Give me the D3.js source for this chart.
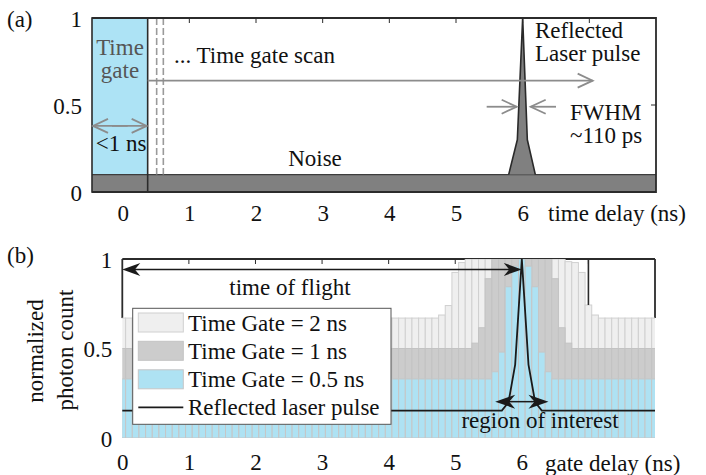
<!DOCTYPE html>
<html><head><meta charset="utf-8">
<script src="https://cdn.jsdelivr.net/npm/d3@7"></script>
<style>
body{margin:0;background:#fff}
</style>
</head><body>
<svg id="chart" width="706" height="475"></svg>
<script>
// ---------- shared tick labels ----------
const xTickValues = [0, 1, 2, 3, 4, 5, 6];
const xTickLabels = ["0", "1", "2", "3", "4", "5", "6"];
const yTickValues = [0, 0.5, 1];
const yTickLabels = ["0", "0.5", "1"];
const innerTicks = [1, 2, 3, 4, 5, 6, 7];

// ---------- panel (a): time gate and reflected pulse ----------
const noiseLevel = 0.1;
const pulseDelay = [5.79, 5.92, 6.0, 6.07, 6.19];
const pulseLevel = [0.1, 0.3, 1.0, 0.3, 0.1];
const gateRightEdge = 0.375;
const scanDashDelay = [0.51, 0.61];

// ---------- panel (b): photon counts versus gate delay (0 .. 8 ns, 0.1 ns steps) ----------
const gateDelay = [
  0.0,0.1,0.2,0.3,0.4,0.5,0.6,0.7,0.8,0.9,1.0,1.1,1.2,1.3,1.4,1.5,1.6,1.7,1.8,1.9,
  2.0,2.1,2.2,2.3,2.4,2.5,2.6,2.7,2.8,2.9,3.0,3.1,3.2,3.3,3.4,3.5,3.6,3.7,3.8,3.9,
  4.0,4.1,4.2,4.3,4.4,4.5,4.6,4.7,4.8,4.9,5.0,5.1,5.2,5.3,5.4,5.5,5.6,5.7,5.8,5.9,
  6.0,6.1,6.2,6.3,6.4,6.5,6.6,6.7,6.8,6.9,7.0,7.1,7.2,7.3,7.4,7.5,7.6,7.7,7.8,7.9,8.0];
const countGate2ns = [
  0.67,0.67,0.67,0.67,0.67,0.67,0.67,0.67,0.67,0.67,0.67,0.67,0.67,0.67,0.67,0.67,0.67,0.67,0.67,0.67,
  0.67,0.67,0.67,0.67,0.67,0.67,0.67,0.67,0.67,0.67,0.67,0.67,0.67,0.67,0.67,0.67,0.67,0.67,0.67,0.67,
  0.67,0.67,0.67,0.67,0.67,0.67,0.67,0.67,0.687,0.74,0.925,0.98,1.0,1.0,1.0,1.0,1.0,1.0,1.0,1.0,
  1.0,1.0,1.0,1.0,1.0,1.0,1.0,0.985,0.98,0.925,0.743,0.687,0.67,0.67,0.67,0.67,0.67,0.67,0.67,0.67,0.67];
const countGate1ns = [
  0.5,0.5,0.5,0.5,0.5,0.5,0.5,0.5,0.5,0.5,0.5,0.5,0.5,0.5,0.5,0.5,0.5,0.5,0.5,0.5,
  0.5,0.5,0.5,0.5,0.5,0.5,0.5,0.5,0.5,0.5,0.5,0.5,0.5,0.5,0.5,0.5,0.5,0.5,0.5,0.5,
  0.5,0.5,0.5,0.5,0.5,0.5,0.5,0.5,0.5,0.5,0.5,0.5,0.5,0.53,0.616,0.89,1.0,1.0,1.0,1.0,
  1.0,1.0,1.0,1.0,1.0,0.89,0.616,0.53,0.5,0.5,0.5,0.5,0.5,0.5,0.5,0.5,0.5,0.5,0.5,0.5,0.5];
const countGate05ns = [
  0.33,0.33,0.33,0.33,0.33,0.33,0.33,0.33,0.33,0.33,0.33,0.33,0.33,0.33,0.33,0.33,0.33,0.33,0.33,0.33,
  0.33,0.33,0.33,0.33,0.33,0.33,0.33,0.33,0.33,0.33,0.33,0.33,0.33,0.33,0.33,0.33,0.33,0.33,0.33,0.33,
  0.33,0.33,0.33,0.33,0.33,0.33,0.33,0.33,0.33,0.33,0.33,0.33,0.33,0.33,0.33,0.33,0.37,0.48,0.845,0.96,
  1.0,0.96,0.845,0.48,0.37,0.33,0.33,0.33,0.33,0.33,0.33,0.33,0.33,0.33,0.33,0.33,0.33,0.33,0.33,0.33,0.33];
const laserDelay = [0, 5.7, 5.8, 5.9, 6.0, 6.1, 6.2, 6.3, 8];
const laserLevel = [0.153, 0.153, 0.2, 0.41, 1.0, 0.41, 0.2, 0.153, 0.153];
const legendLabels = ["Time Gate = 2 ns", "Time Gate = 1 ns", "Time Gate = 0.5 ns", "Reflected laser pulse"];
const barWidth = 0.1;

const svg = d3.select("#chart");
const frameColor = "#2b2b2b";
const arrowGray = "#8c8c8c";
const SERIF = "'Liberation Serif', 'Times New Roman', Times, 'Nimbus Roman', 'Nimbus Roman No9 L', 'FreeSerif', 'Noto Serif', 'DejaVu Serif', 'Tinos', serif";

// ---------- helpers ----------
function openArrow(g, x1, y1, x2, y2, color, L = 15, W = 7) {
  g.append("line").attr("x1", x1).attr("y1", y1).attr("x2", x2).attr("y2", y2)
    .attr("stroke", color).attr("stroke-width", 1.8);
  const a = Math.atan2(y2 - y1, x2 - x1);
  const p = (dx, dy) => [x2 + dx * Math.cos(a) - dy * Math.sin(a), y2 + dx * Math.sin(a) + dy * Math.cos(a)];
  const pts = [p(-L, -W), [x2, y2], p(-L, W)];
  g.append("polyline").attr("points", pts.map(d => d.join(",")).join(" "))
    .attr("fill", "none").attr("stroke", color).attr("stroke-width", 1.8);
}
function filledHead(g, tx, ty, dir, L = 18, W = 6.5) {
  const s = dir; // +1 points right, -1 points left
  const pts = [[tx, ty], [tx - s * L, ty - W], [tx - s * L * 0.7, ty], [tx - s * L, ty + W]];
  g.append("polygon").attr("points", pts.map(d => d.join(",")).join(" ")).attr("fill", "#1a1a1a");
}
function label(g, x, y, str, anchor = "start", color = "#111") {
  return g.append("text").attr("x", x).attr("y", y).attr("text-anchor", anchor)
    .attr("font-family", SERIF).attr("font-size", 23).attr("fill", color).text(str);
}

// =====================================================================
// Panel (a)
// =====================================================================
const xa = d3.scaleLinear().domain([-0.46, 8]).range([92, 656]);
const ya = d3.scaleLinear().domain([0, 1]).range([192, 18]);
const ga = svg.append("g");

// time gate window
ga.append("rect")
  .attr("x", xa(-0.46)).attr("y", ya(1))
  .attr("width", xa(gateRightEdge) - xa(-0.46)).attr("height", ya(noiseLevel) - ya(1))
  .attr("fill", "#ade3f5");

// noise floor
ga.append("rect")
  .attr("x", xa(-0.46)).attr("y", ya(noiseLevel))
  .attr("width", xa(8) - xa(-0.46)).attr("height", ya(0) - ya(noiseLevel))
  .attr("fill", "#808080");
ga.append("line")
  .attr("x1", xa(-0.46)).attr("x2", xa(8)).attr("y1", ya(noiseLevel)).attr("y2", ya(noiseLevel))
  .attr("stroke", "#3d3d3d").attr("stroke-width", 1.2);

// reflected pulse
const pulsePts = pulseDelay.map((d, i) => [d, pulseLevel[i]]);
ga.append("path")
  .attr("d", d3.area().x(d => xa(d[0])).y0(ya(noiseLevel)).y1(d => ya(d[1]))(pulsePts))
  .attr("fill", "#808080");
ga.append("path")
  .attr("d", d3.line().x(d => xa(d[0])).y(d => ya(d[1]))(pulsePts))
  .attr("fill", "none").attr("stroke", "#2a2a2a").attr("stroke-width", 1.6);

// gate outline
ga.append("rect")
  .attr("x", xa(-0.46)).attr("y", ya(1))
  .attr("width", xa(gateRightEdge) - xa(-0.46)).attr("height", ya(0) - ya(1))
  .attr("fill", "none").attr("stroke", frameColor).attr("stroke-width", 1.6);

// scanning gate positions
scanDashDelay.forEach(d => {
  ga.append("line").attr("x1", xa(d)).attr("x2", xa(d)).attr("y1", ya(1)).attr("y2", ya(noiseLevel))
    .attr("stroke", "#9a9a9a").attr("stroke-width", 1.6).attr("stroke-dasharray", "7,3");
});

// frame
ga.append("path")
  .attr("d", `M${xa(-0.46)},${ya(1)}H${xa(8)}V${ya(0)}H${xa(-0.46)}`)
  .attr("fill", "none").attr("stroke", frameColor).attr("stroke-width", 1.8);
innerTicks.forEach(t => {
  ga.append("line").attr("x1", xa(t)).attr("x2", xa(t)).attr("y1", ya(1)).attr("y2", ya(1) + 5)
    .attr("stroke", frameColor).attr("stroke-width", 1);
});
ga.append("line").attr("x1", xa(8)).attr("x2", xa(8) - 5).attr("y1", ya(0.5)).attr("y2", ya(0.5))
  .attr("stroke", frameColor).attr("stroke-width", 1);

// axes labels
const axA = ga.append("g").attr("transform", `translate(0,${ya(0)})`)
  .call(d3.axisBottom(xa).tickValues(xTickValues).tickFormat((d, i) => xTickLabels[i]).tickSize(0).tickPadding(13));
axA.select(".domain").remove();
const ayA = ga.append("g").attr("transform", `translate(${xa(-0.46)},0)`)
  .call(d3.axisLeft(ya).tickValues(yTickValues).tickFormat((d, i) => yTickLabels[i]).tickSize(0).tickPadding(10));
ayA.select(".domain").remove();
ayA.selectAll("text").attr("dy", "0.38em");
[axA, ayA].forEach(a => a.attr("font-family", SERIF).attr("font-size", 23));
ga.selectAll(".tick text").attr("fill", "#111");

label(ga, 548, 221, "time delay (ns)");
label(ga, 7, 27, "(a)");

// arrows
openArrow(ga, xa(gateRightEdge), ya(0.64), xa(7.05), ya(0.64), arrowGray);
openArrow(ga, xa(gateRightEdge) - 20, ya(0.38), xa(-0.46) + 1, ya(0.38), arrowGray);
openArrow(ga, xa(-0.46) + 20, ya(0.38), xa(gateRightEdge) - 1, ya(0.38), arrowGray);
openArrow(ga, xa(5.46), ya(0.49), xa(5.91), ya(0.49), arrowGray);
openArrow(ga, xa(6.5), ya(0.49), xa(6.12), ya(0.49), arrowGray);

// annotations
label(ga, 120, 55, "Time", "middle", "#555");
label(ga, 120, 78, "gate", "middle", "#555");
label(ga, 121, 151, "<1 ns", "middle");
label(ga, 174, 63, "... Time gate scan");
label(ga, 315, 166, "Noise", "middle");
label(ga, 535, 38, "Reflected");
label(ga, 535, 61, "Laser pulse");
label(ga, 570, 120, "FWHM");
label(ga, 570, 143, "~110 ps");

// =====================================================================
// Panel (b)
// =====================================================================
const xb = d3.scaleLinear().domain([0, 8]).range([122.3, 655]);
const yb = d3.scaleLinear().domain([0, 1]).range([438, 259]);
const gb = svg.append("g");

svg.append("defs").append("clipPath").attr("id", "clipB")
  .append("rect").attr("x", xb(0)).attr("y", yb(1)).attr("width", xb(8) - xb(0)).attr("height", yb(0) - yb(1));

// frame (top + visible parts of the sides)
gb.append("line").attr("x1", xb(0)).attr("x2", xb(8)).attr("y1", yb(1)).attr("y2", yb(1))
  .attr("stroke", frameColor).attr("stroke-width", 1.8);
gb.append("line").attr("x1", xb(0)).attr("x2", xb(0)).attr("y1", yb(1)).attr("y2", yb(countGate2ns[0]))
  .attr("stroke", frameColor).attr("stroke-width", 1.8);
gb.append("line").attr("x1", xb(8)).attr("x2", xb(8)).attr("y1", yb(1)).attr("y2", yb(countGate2ns[80]))
  .attr("stroke", frameColor).attr("stroke-width", 1.8);
innerTicks.forEach(t => {
  gb.append("line").attr("x1", xb(t)).attr("x2", xb(t)).attr("y1", yb(1)).attr("y2", yb(1) + 5)
    .attr("stroke", frameColor).attr("stroke-width", 1);
});

const bars = gb.append("g").attr("clip-path", "url(#clipB)");
function drawBars(values, fill, stroke) {
  bars.append("g").selectAll("rect").data(gateDelay).join("rect")
    .attr("x", d => xb(d - barWidth / 2))
    .attr("width", xb(barWidth) - xb(0))
    .attr("y", (d, i) => yb(values[i]))
    .attr("height", (d, i) => yb(0) - yb(values[i]))
    .attr("fill", fill).attr("stroke", stroke).attr("stroke-width", 1);
}
drawBars(countGate2ns, "#efefef", "#d0d0d0");
drawBars(countGate1ns, "#cccccc", "#c3c3c3");
drawBars(countGate05ns, "#aee2f3", "#c6c6c6");

// dark edge at 7 ns
const i7 = gateDelay.indexOf(7.0);
gb.append("line").attr("x1", xb(7)).attr("x2", xb(7)).attr("y1", yb(1)).attr("y2", yb(countGate2ns[i7]))
  .attr("stroke", frameColor).attr("stroke-width", 1.6);

// reflected laser pulse
gb.append("path")
  .attr("d", d3.line().x(d => xb(d[0])).y(d => yb(d[1]))(laserDelay.map((d, i) => [d, laserLevel[i]])))
  .attr("fill", "none").attr("stroke", "#1a1a1a").attr("stroke-width", 1.8);

// time of flight
const tofY = yb(0.942);
gb.append("line").attr("x1", xb(0) + 12).attr("x2", xb(6) - 12).attr("y1", tofY).attr("y2", tofY)
  .attr("stroke", "#1a1a1a").attr("stroke-width", 1.5);
filledHead(gb, xb(0), tofY, -1);
filledHead(gb, xb(6), tofY, 1);
label(gb, 290, 295, "time of flight", "middle");

// region of interest
const roiY = yb(0.203);
gb.append("line").attr("x1", xb(5.6) + 12).attr("x2", xb(6.4) - 12).attr("y1", roiY).attr("y2", roiY)
  .attr("stroke", "#1a1a1a").attr("stroke-width", 1.5);
filledHead(gb, xb(5.6), roiY, -1, 20, 7);
filledHead(gb, xb(6.4), roiY, 1, 20, 7);
label(gb, 540, 428, "region of interest", "middle");

// axes labels
const axB = gb.append("g").attr("transform", `translate(0,${yb(0)})`)
  .call(d3.axisBottom(xb).tickValues(xTickValues).tickFormat((d, i) => xTickLabels[i]).tickSize(0).tickPadding(16));
axB.select(".domain").remove();
const ayB = gb.append("g").attr("transform", `translate(${xb(0)},0)`)
  .call(d3.axisLeft(yb).tickValues(yTickValues).tickFormat((d, i) => yTickLabels[i]).tickSize(0).tickPadding(10));
ayB.select(".domain").remove();
ayB.selectAll("text").attr("dy", "0.36em");
[axB, ayB].forEach(a => a.attr("font-family", SERIF).attr("font-size", 23));
gb.selectAll(".tick text").attr("fill", "#111");

label(gb, 545, 471, "gate delay (ns)");
label(gb, 7, 263, "(b)");
label(gb, 0, 0, "normalized", "middle").attr("transform", "translate(43,351) rotate(-90)");
label(gb, 0, 0, "photon count", "middle").attr("transform", "translate(73,350) rotate(-90)");

// legend
const lg = gb.append("g");
lg.append("rect").attr("x", 132.7).attr("y", 308.3).attr("width", 258.3).attr("height", 116)
  .attr("fill", "#fff").attr("stroke", "#555").attr("stroke-width", 1);
const legendFill = ["#efefef", "#cccccc", "#aee2f3"];
const legendStroke = ["#d0d0d0", "#c3c3c3", "#c6c6c6"];
const rowY = [322.5, 350.8, 379.3, 407.3];
legendLabels.forEach((lab, i) => {
  if (i < 3) {
    lg.append("rect").attr("x", 138.3).attr("y", rowY[i] - 9.5).attr("width", 45).attr("height", 19)
      .attr("fill", legendFill[i]).attr("stroke", legendStroke[i]).attr("stroke-width", 1);
  } else {
    lg.append("line").attr("x1", 138.3).attr("x2", 183.3).attr("y1", rowY[i]).attr("y2", rowY[i])
      .attr("stroke", "#1a1a1a").attr("stroke-width", 1.8);
  }
  label(lg, 188, rowY[i] + 8, lab);
});
</script>
</body></html>
